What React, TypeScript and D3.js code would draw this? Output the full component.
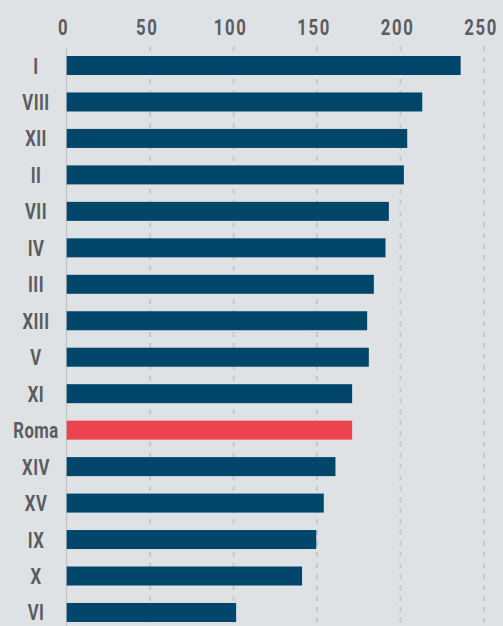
import React from "react";
import * as d3 from "d3";

const categories = ["I", "VIII", "XII", "II", "VII", "IV", "III", "XIII", "V", "XI", "Roma", "XIV", "XV", "IX", "X", "VI"];
const values = [236, 213, 204, 202, 193, 191, 184, 180, 181, 171, 171, 161, 154, 149.5, 141, 101.5];
const ticks = [0, 50, 100, 150, 200, 250];
const highlight = "Roma";

const W = 503;
const H = 626;
const FONT = "Roboto, 'Noto Sans', sans-serif";
const SX = 0.76;

function Label({ x, y, text, ls }: { x: number; y: number; text: string; ls: number }) {
  return (
    <text
      transform={`translate(${x},${y}) scale(${SX},1)`}
      textAnchor="middle"
      fontFamily={FONT}
      fontWeight="bold"
      fontSize={22}
      letterSpacing={ls}
      fill="#5b5c5e"
    >
      {text}
    </text>
  );
}

export default function App() {
  const x = d3.scaleLinear().domain([0, 250]).range([66.7, 484]);
  const y = d3
    .scaleBand<string>()
    .domain(categories)
    .range([47.27, 630.7])
    .paddingInner(0.479)
    .paddingOuter(0.2395);

  return (
    <svg
      width={W}
      height={H}
      style={{ position: "absolute", left: 0, top: 0, background: "#dfe2e5" }}
    >
      <rect x={0} y={0} width={W} height={H} fill="#dfe2e5" />
      {ticks.slice(1).map((t) => (
        <line
          key={"g" + t}
          x1={x(t)}
          x2={x(t)}
          y1={46}
          y2={H}
          stroke="#c6c9cd"
          strokeWidth={2}
          strokeDasharray="5,6"
        />
      ))}
      <line x1={x(0) - 0.2} x2={x(0) - 0.2} y1={48} y2={H} stroke="#bfc2c6" strokeWidth={1.2} />
      {ticks.map((t) => (
        <Label key={"t" + t} x={x(t) - 3} y={35} text={String(t)} ls={2.2} />
      ))}
      {categories.map((c, i) => (
        <g key={c}>
          <rect
            x={x(0)}
            y={y(c)!}
            width={x(values[i]) - x(0)}
            height={y.bandwidth()}
            fill={c === highlight ? "#ee434f" : "#00466a"}
          />
          <Label x={36} y={y(c)! + y.bandwidth() / 2 + 8} text={c} ls={0.6} />
        </g>
      ))}
    </svg>
  );
}
